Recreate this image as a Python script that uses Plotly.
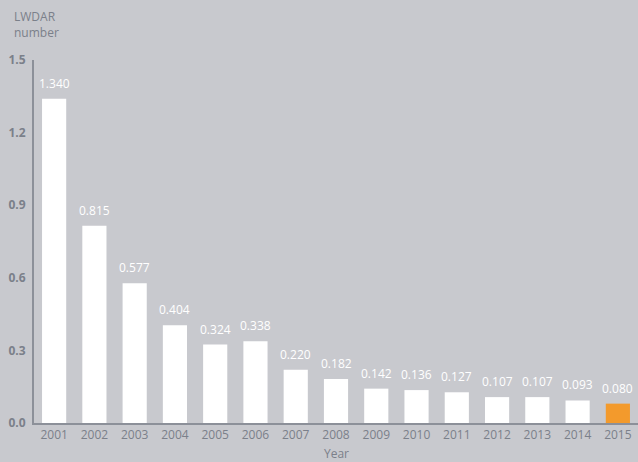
import plotly.graph_objects as go

years = ["2001", "2002", "2003", "2004", "2005", "2006", "2007", "2008",
         "2009", "2010", "2011", "2012", "2013", "2014", "2015"]
values = [1.340, 0.815, 0.577, 0.404, 0.324, 0.338, 0.220, 0.182,
          0.142, 0.136, 0.127, 0.107, 0.107, 0.093, 0.080]
labels = ["1.340", "0.815", "0.577", "0.404", "0.324", "0.338", "0.220", "0.182",
          "0.142", "0.136", "0.127", "0.107", "0.107", "0.093", "0.080"]
y_ticks = [0.0, 0.3, 0.6, 0.9, 1.2, 1.5]
y_ticklabels = ["0.0", "0.3", "0.6", "0.9", "1.2", "1.5"]

bg = "#c8c9ce"
axis_col = "#8c9099"
text_col = "#7b808a"
colors = ["#ffffff"] * (len(years) - 1) + ["#f39a2c"]

fig = go.Figure(go.Bar(
    x=years, y=values,
    marker=dict(color=colors, line=dict(width=0)),
    width=0.6,
))

annotations = [
    dict(x=i, y=v, text=t, xref="x", yref="y", showarrow=False,
         yanchor="bottom", yshift=5,
         font=dict(size=12, color="#ffffff", family="Open Sans"))
    for i, (v, t) in enumerate(zip(values, labels))
]
annotations.append(
    dict(text="LWDAR<br>number", xref="paper", yref="paper",
         x=-22 / 604, y=1, xanchor="left", yanchor="bottom", yshift=17,
         showarrow=False, align="left",
         font=dict(size=12, color=text_col, family="Open Sans"))
)
annotations.append(
    dict(text="Year", xref="paper", yref="paper", x=0.5, y=0,
         xanchor="center", yanchor="middle", yshift=-30, showarrow=False,
         font=dict(size=12, color=text_col, family="Open Sans"))
)

fig.update_layout(
    width=638, height=462,
    paper_bgcolor=bg, plot_bgcolor=bg,
    margin=dict(l=34, r=0, t=60, b=39, autoexpand=False),
    showlegend=False,
    font=dict(family="Open Sans", color=text_col, size=12),
    xaxis=dict(
        type="category", showgrid=False, showline=True, linecolor=axis_col,
        linewidth=2, ticks="", tickfont=dict(size=12, color=text_col),
        range=[-0.5, 14.5], automargin=False,
    ),
    yaxis=dict(
        range=[0, 1.5], tickvals=y_ticks, ticktext=y_ticklabels,
        showgrid=False, showline=True, linecolor=axis_col, linewidth=2,
        zeroline=False, ticks="", ticklabelstandoff=4, automargin=False,
        tickfont=dict(size=12, color=text_col, weight="bold"),
    ),
    annotations=annotations,
    bargap=0.4,
)

fig.write_html("out.html")
